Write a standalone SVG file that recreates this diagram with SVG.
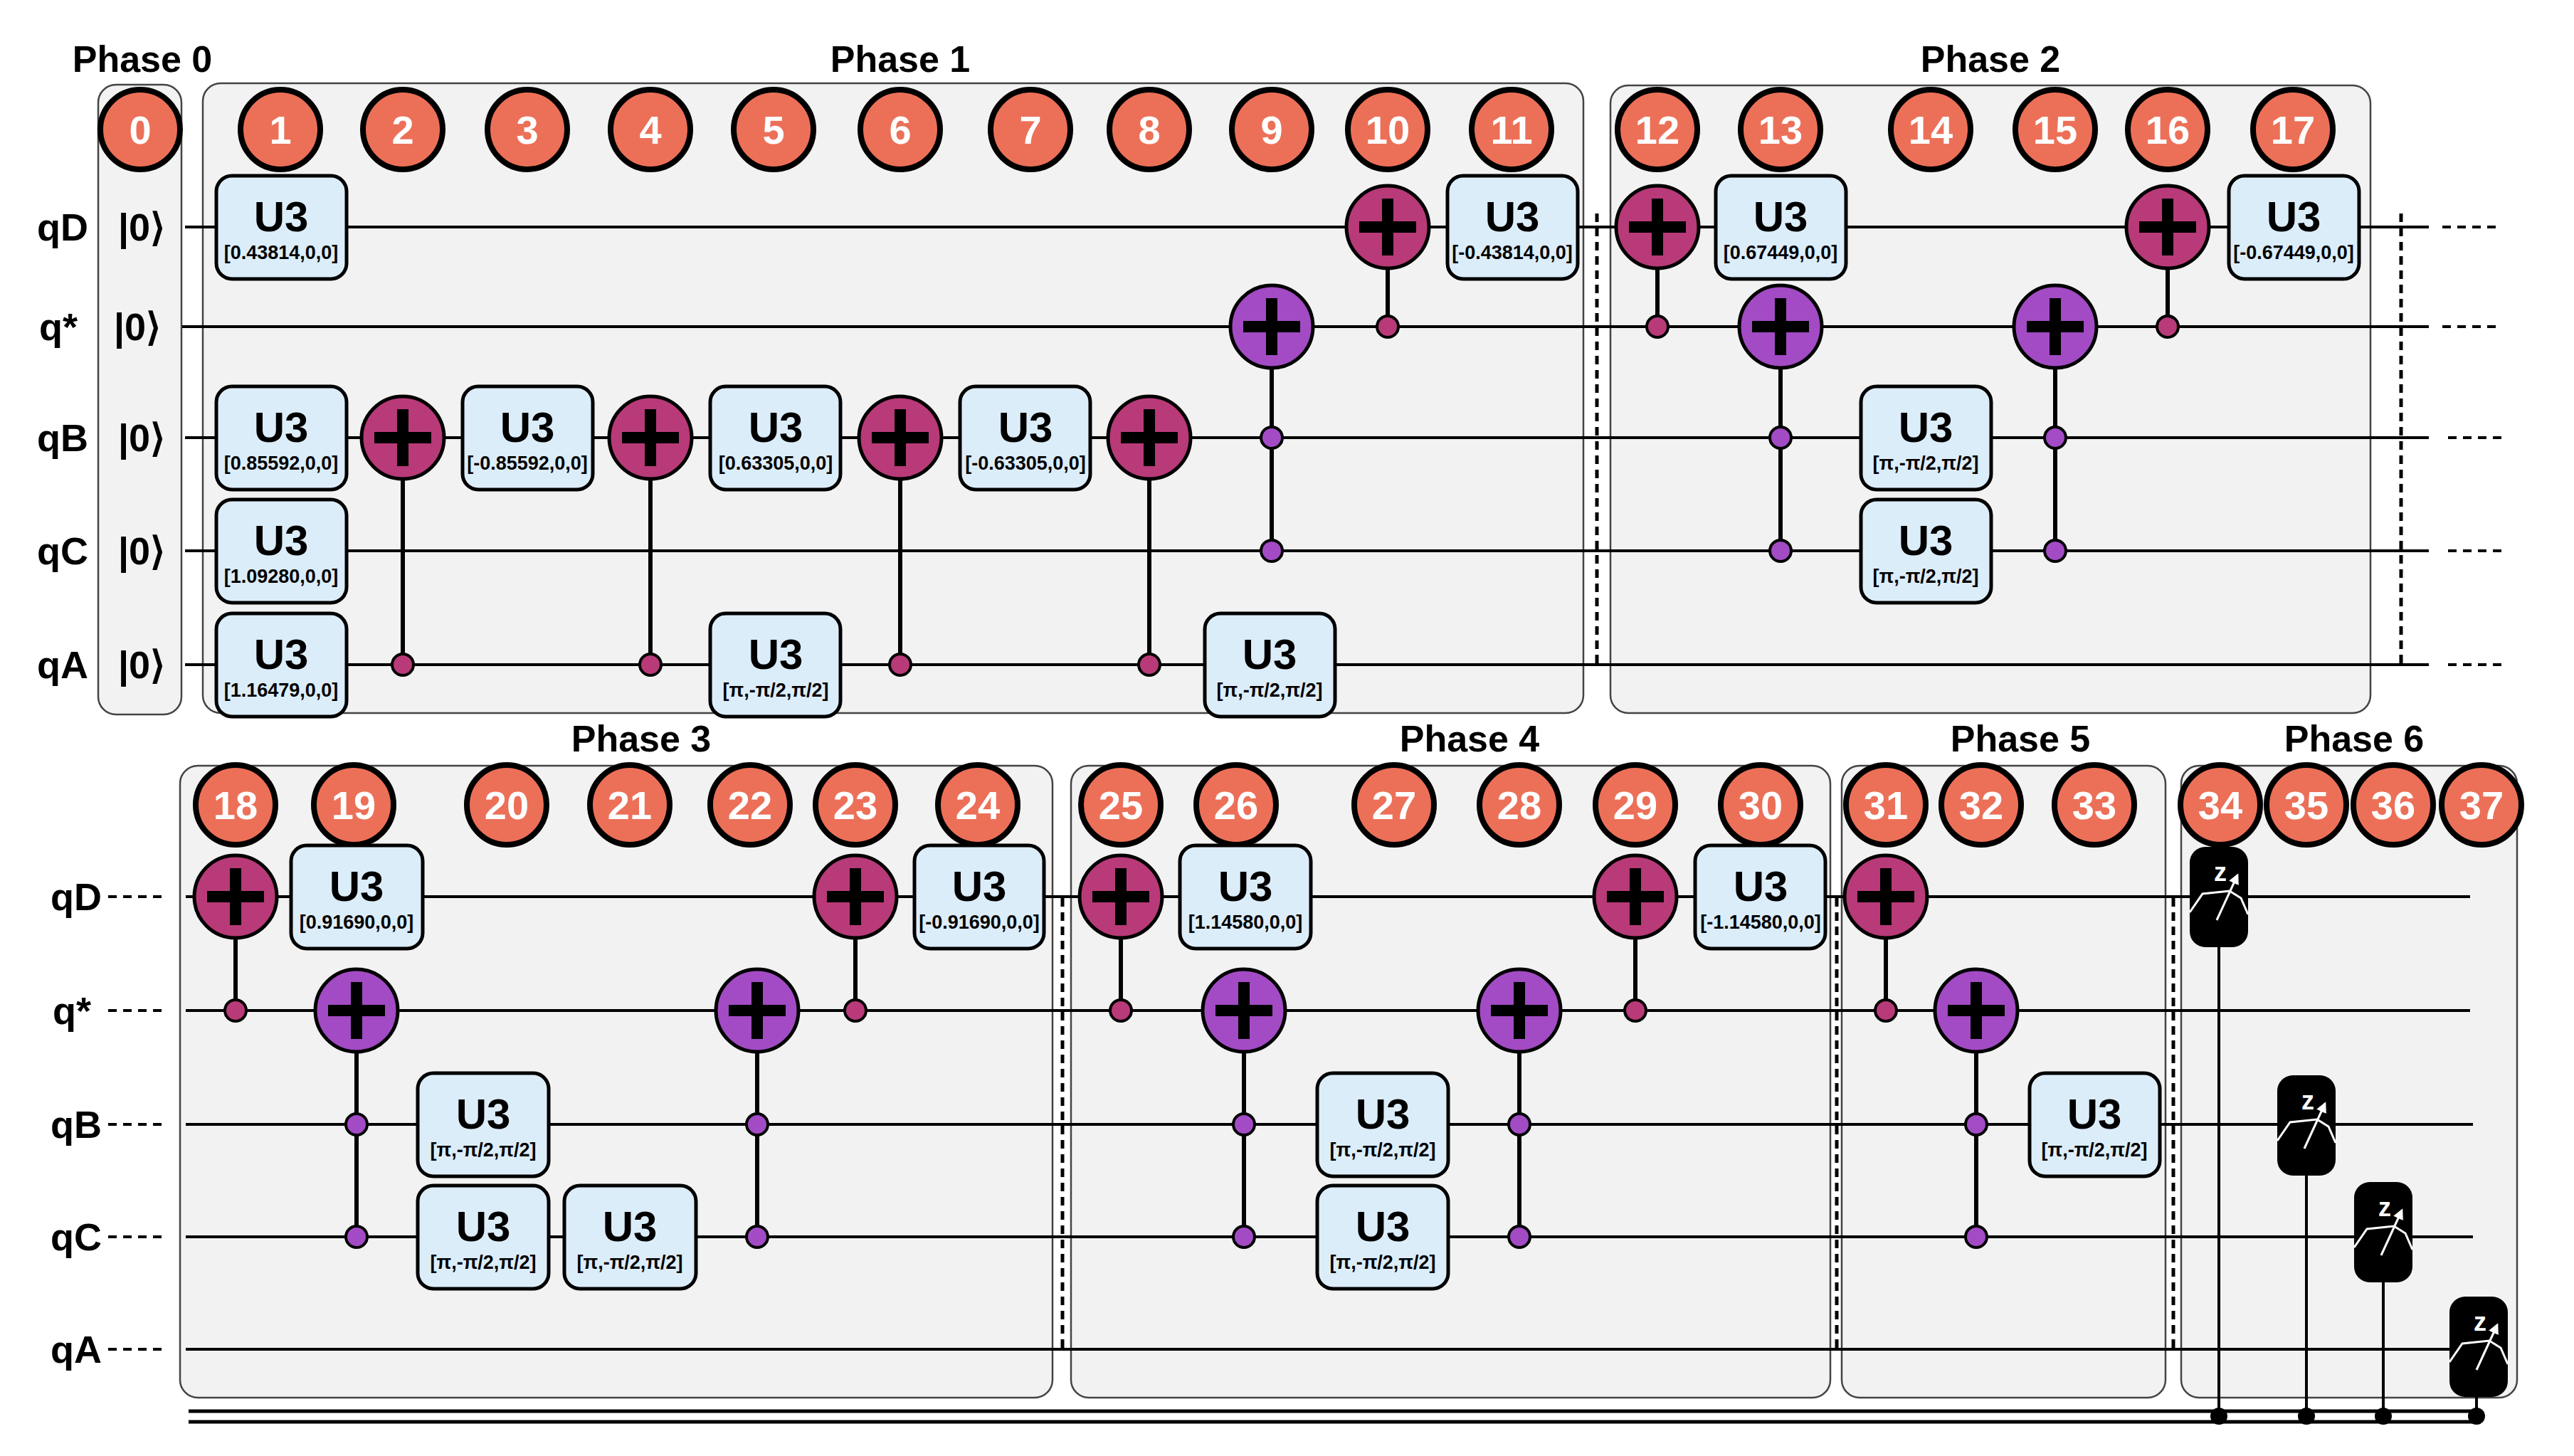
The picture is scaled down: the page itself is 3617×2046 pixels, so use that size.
<svg xmlns="http://www.w3.org/2000/svg" xmlns:xlink="http://www.w3.org/1999/xlink" width="3617" height="2046" viewBox="0 0 3617 2046">
<style>
text{font-family:"Liberation Sans",Arial,sans-serif;font-weight:bold;text-anchor:middle}
.ph{fill:#f2f2f2;stroke:#444;stroke-width:2.5}
.ttl{font-size:52px;fill:#000}
.num circle{fill:#ec7058;stroke:#000;stroke-width:8}
.num text{font-size:56px;fill:#fff}
.lbl{font-size:54px;fill:#000}
.wire{stroke:#000;stroke-width:4;fill:none}
.dash{stroke:#000;stroke-width:4;stroke-dasharray:12 9}
.vdot{stroke:#000;stroke-width:5;stroke-dasharray:12 8}
.ctl{stroke:#000;stroke-width:6}
.u3 rect{fill:#dcedfa;stroke:#000;stroke-width:5}
.u3 .g{font-size:60px}
.u3 .p{font-size:27px}
.cm{fill:#b83a78;stroke:#000;stroke-width:4}
.cp{fill:#a24bc4;stroke:#000;stroke-width:4}
.cl{stroke:#000;stroke-width:5}
</style>
<defs>
<g id="plus"><rect x="-40" y="-8" width="80" height="16" fill="#000"/><rect x="-8" y="-40" width="16" height="80" fill="#000"/></g>
<g id="tM"><circle r="58" fill="#b83a78" stroke="#000" stroke-width="5"/><use xlink:href="#plus"/></g>
<g id="tP"><circle r="58" fill="#a24bc4" stroke="#000" stroke-width="5"/><use xlink:href="#plus"/></g>
<marker id="arr" viewBox="0 0 10 10" refX="8" refY="5" markerWidth="5" markerHeight="5" orient="auto"><path d="M0,0L10,5L0,10z" fill="#fff"/></marker>
<g id="meter"><rect x="-41" y="-70" width="82" height="141" rx="22" fill="#000"/><text x="2" y="-22" font-size="36" fill="#fff" font-family="Liberation Sans, Arial, sans-serif" font-weight="bold" text-anchor="middle">z</text><polyline points="-41,22 -23,-4 15,-8 31,2 41,25" fill="none" stroke="#fff" stroke-width="3"/><line x1="-3" y1="33" x2="26" y2="-30" stroke="#fff" stroke-width="3" marker-end="url(#arr)"/></g>
</defs>

<g id="phases">
<rect class="ph" x="138" y="119" width="117" height="885" rx="25"/>
<rect class="ph" x="285" y="117" width="1940" height="885" rx="25"/>
<rect class="ph" x="2263" y="120" width="1068" height="882" rx="25"/>
<rect class="ph" x="253" y="1076" width="1226" height="888" rx="25"/>
<rect class="ph" x="1505" y="1076" width="1067" height="888" rx="25"/>
<rect class="ph" x="2588" y="1076" width="455" height="888" rx="25"/>
<rect class="ph" x="3065" y="1076" width="472" height="888" rx="25"/>
<text class="ttl" x="200" y="101">Phase 0</text>
<text class="ttl" x="1265" y="101">Phase 1</text>
<text class="ttl" x="2797" y="101">Phase 2</text>
<text class="ttl" x="901" y="1056">Phase 3</text>
<text class="ttl" x="2065" y="1056">Phase 4</text>
<text class="ttl" x="2839" y="1056">Phase 5</text>
<text class="ttl" x="3308" y="1056">Phase 6</text>
</g>

<g id="labels">
<text class="lbl" x="88" y="338">qD</text><text class="lbl" x="199" y="338">|0⟩</text>
<text class="lbl" x="82" y="478">q*</text><text class="lbl" x="193" y="478">|0⟩</text>
<text class="lbl" x="88" y="634">qB</text><text class="lbl" x="199" y="634">|0⟩</text>
<text class="lbl" x="88" y="793">qC</text><text class="lbl" x="199" y="793">|0⟩</text>
<text class="lbl" x="88" y="953">qA</text><text class="lbl" x="199" y="953">|0⟩</text>
<text class="lbl" x="107" y="1279">qD</text>
<text class="lbl" x="101" y="1439">q*</text>
<text class="lbl" x="107" y="1599">qB</text>
<text class="lbl" x="107" y="1757">qC</text>
<text class="lbl" x="107" y="1915">qA</text>
</g>

<g id="connectors">
<line class="wire" x1="260" y1="319" x2="3413" y2="319"/>
<line class="wire" x1="256" y1="459" x2="3413" y2="459"/>
<line class="wire" x1="260" y1="615" x2="3413" y2="615"/>
<line class="wire" x1="260" y1="774" x2="3413" y2="774"/>
<line class="wire" x1="260" y1="934" x2="3413" y2="934"/>
<line class="dash" x1="3432" y1="319" x2="3510" y2="319"/>
<line class="dash" x1="3432" y1="459" x2="3510" y2="459"/>
<line class="dash" x1="3440" y1="615" x2="3518" y2="615"/>
<line class="dash" x1="3440" y1="774" x2="3518" y2="774"/>
<line class="dash" x1="3440" y1="934" x2="3518" y2="934"/>
<line class="wire" x1="261" y1="1260" x2="3471" y2="1260"/>
<line class="wire" x1="261" y1="1420" x2="3471" y2="1420"/>
<line class="wire" x1="261" y1="1580" x2="3475" y2="1580"/>
<line class="wire" x1="261" y1="1738" x2="3475" y2="1738"/>
<line class="wire" x1="261" y1="1896" x2="3445" y2="1896"/>
<line class="dash" x1="152" y1="1260" x2="228" y2="1260"/>
<line class="dash" x1="152" y1="1420" x2="228" y2="1420"/>
<line class="dash" x1="152" y1="1580" x2="228" y2="1580"/>
<line class="dash" x1="152" y1="1738" x2="228" y2="1738"/>
<line class="dash" x1="152" y1="1896" x2="228" y2="1896"/>
<line class="vdot" x1="2244" y1="300" x2="2244" y2="937"/>
<line class="vdot" x1="3374" y1="300" x2="3374" y2="937"/>
<line class="vdot" x1="1493" y1="1262" x2="1493" y2="1897"/>
<line class="vdot" x1="2581" y1="1262" x2="2581" y2="1897"/>
<line class="vdot" x1="3054" y1="1262" x2="3054" y2="1897"/>
<line class="cl" x1="265" y1="1983" x2="3479" y2="1983"/>
<line class="cl" x1="265" y1="1998" x2="3479" y2="1998"/>
<line class="ctl" x1="566" y1="615" x2="566" y2="934"/>
<line class="ctl" x1="914" y1="615" x2="914" y2="934"/>
<line class="ctl" x1="1265" y1="615" x2="1265" y2="934"/>
<line class="ctl" x1="1615" y1="615" x2="1615" y2="934"/>
<line class="ctl" x1="1787" y1="459" x2="1787" y2="774"/>
<line class="ctl" x1="1950" y1="319" x2="1950" y2="459"/>
<line class="ctl" x1="2329" y1="319" x2="2329" y2="459"/>
<line class="ctl" x1="2502" y1="459" x2="2502" y2="774"/>
<line class="ctl" x1="2888" y1="459" x2="2888" y2="774"/>
<line class="ctl" x1="3046" y1="319" x2="3046" y2="459"/>
<line class="ctl" x1="331" y1="1260" x2="331" y2="1420"/>
<line class="ctl" x1="501" y1="1420" x2="501" y2="1738"/>
<line class="ctl" x1="1064" y1="1420" x2="1064" y2="1738"/>
<line class="ctl" x1="1202" y1="1260" x2="1202" y2="1420"/>
<line class="ctl" x1="1575" y1="1260" x2="1575" y2="1420"/>
<line class="ctl" x1="1748" y1="1420" x2="1748" y2="1738"/>
<line class="ctl" x1="2135" y1="1420" x2="2135" y2="1738"/>
<line class="ctl" x1="2298" y1="1260" x2="2298" y2="1420"/>
<line class="ctl" x1="2650" y1="1260" x2="2650" y2="1420"/>
<line class="ctl" x1="2777" y1="1420" x2="2777" y2="1738"/>
<line class="wire" x1="3118" y1="1330" x2="3118" y2="1990"/>
<line class="wire" x1="3241" y1="1651" x2="3241" y2="1990"/>
<line class="wire" x1="3349" y1="1801" x2="3349" y2="1990"/>
<line class="wire" x1="3480" y1="1960" x2="3480" y2="1990"/>
</g>

<g id="steps" class="num">
<circle cx="197" cy="182" r="56"/><text x="197" y="202">0</text>
<circle cx="394" cy="182" r="56"/><text x="394" y="202">1</text>
<circle cx="566" cy="182" r="56"/><text x="566" y="202">2</text>
<circle cx="741" cy="182" r="56"/><text x="741" y="202">3</text>
<circle cx="914" cy="182" r="56"/><text x="914" y="202">4</text>
<circle cx="1087" cy="182" r="56"/><text x="1087" y="202">5</text>
<circle cx="1265" cy="182" r="56"/><text x="1265" y="202">6</text>
<circle cx="1448" cy="182" r="56"/><text x="1448" y="202">7</text>
<circle cx="1615" cy="182" r="56"/><text x="1615" y="202">8</text>
<circle cx="1787" cy="182" r="56"/><text x="1787" y="202">9</text>
<circle cx="1950" cy="182" r="56"/><text x="1950" y="202">10</text>
<circle cx="2124" cy="182" r="56"/><text x="2124" y="202">11</text>
<circle cx="2329" cy="182" r="56"/><text x="2329" y="202">12</text>
<circle cx="2502" cy="182" r="56"/><text x="2502" y="202">13</text>
<circle cx="2713" cy="182" r="56"/><text x="2713" y="202">14</text>
<circle cx="2888" cy="182" r="56"/><text x="2888" y="202">15</text>
<circle cx="3046" cy="182" r="56"/><text x="3046" y="202">16</text>
<circle cx="3222" cy="182" r="56"/><text x="3222" y="202">17</text>
<circle cx="331" cy="1131" r="56"/><text x="331" y="1151">18</text>
<circle cx="497" cy="1131" r="56"/><text x="497" y="1151">19</text>
<circle cx="712" cy="1131" r="56"/><text x="712" y="1151">20</text>
<circle cx="885" cy="1131" r="56"/><text x="885" y="1151">21</text>
<circle cx="1054" cy="1131" r="56"/><text x="1054" y="1151">22</text>
<circle cx="1202" cy="1131" r="56"/><text x="1202" y="1151">23</text>
<circle cx="1374" cy="1131" r="56"/><text x="1374" y="1151">24</text>
<circle cx="1575" cy="1131" r="56"/><text x="1575" y="1151">25</text>
<circle cx="1737" cy="1131" r="56"/><text x="1737" y="1151">26</text>
<circle cx="1959" cy="1131" r="56"/><text x="1959" y="1151">27</text>
<circle cx="2135" cy="1131" r="56"/><text x="2135" y="1151">28</text>
<circle cx="2298" cy="1131" r="56"/><text x="2298" y="1151">29</text>
<circle cx="2474" cy="1131" r="56"/><text x="2474" y="1151">30</text>
<circle cx="2650" cy="1131" r="56"/><text x="2650" y="1151">31</text>
<circle cx="2784" cy="1131" r="56"/><text x="2784" y="1151">32</text>
<circle cx="2943" cy="1131" r="56"/><text x="2943" y="1151">33</text>
<circle cx="3120" cy="1131" r="56"/><text x="3120" y="1151">34</text>
<circle cx="3241" cy="1131" r="56"/><text x="3241" y="1151">35</text>
<circle cx="3363" cy="1131" r="56"/><text x="3363" y="1151">36</text>
<circle cx="3487" cy="1131" r="56"/><text x="3487" y="1151">37</text>
</g>

<g id="u3gates" class="u3">
<g id="u3-1D"><rect x="304" y="247" width="183" height="145" rx="22"/><text class="g" x="395" y="325">U3</text><text class="p" x="395" y="364">[0.43814,0,0]</text></g>
<g id="u3-1B"><rect x="304" y="543" width="183" height="145" rx="22"/><text class="g" x="395" y="621">U3</text><text class="p" x="395" y="660">[0.85592,0,0]</text></g>
<g id="u3-1C"><rect x="304" y="702" width="183" height="145" rx="22"/><text class="g" x="395" y="780">U3</text><text class="p" x="395" y="819">[1.09280,0,0]</text></g>
<g id="u3-1A"><rect x="304" y="862" width="183" height="145" rx="22"/><text class="g" x="395" y="940">U3</text><text class="p" x="395" y="979">[1.16479,0,0]</text></g>
<g id="u3-3B"><rect x="650" y="543" width="183" height="145" rx="22"/><text class="g" x="741" y="621">U3</text><text class="p" x="741" y="660">[-0.85592,0,0]</text></g>
<g id="u3-5B"><rect x="998" y="543" width="183" height="145" rx="22"/><text class="g" x="1090" y="621">U3</text><text class="p" x="1090" y="660">[0.63305,0,0]</text></g>
<g id="u3-5A"><rect x="998" y="862" width="183" height="145" rx="22"/><text class="g" x="1090" y="940">U3</text><text class="p" x="1090" y="979">[π,-π/2,π/2]</text></g>
<g id="u3-7B"><rect x="1349" y="543" width="183" height="145" rx="22"/><text class="g" x="1441" y="621">U3</text><text class="p" x="1441" y="660">[-0.63305,0,0]</text></g>
<g id="u3-9A"><rect x="1693" y="862" width="183" height="145" rx="22"/><text class="g" x="1784" y="940">U3</text><text class="p" x="1784" y="979">[π,-π/2,π/2]</text></g>
<g id="u3-11D"><rect x="2034" y="247" width="183" height="145" rx="22"/><text class="g" x="2125" y="325">U3</text><text class="p" x="2125" y="364">[-0.43814,0,0]</text></g>
<g id="u3-13D"><rect x="2411" y="247" width="183" height="145" rx="22"/><text class="g" x="2502" y="325">U3</text><text class="p" x="2502" y="364">[0.67449,0,0]</text></g>
<g id="u3-14B"><rect x="2615" y="543" width="183" height="145" rx="22"/><text class="g" x="2706" y="621">U3</text><text class="p" x="2706" y="660">[π,-π/2,π/2]</text></g>
<g id="u3-14C"><rect x="2615" y="702" width="183" height="145" rx="22"/><text class="g" x="2706" y="780">U3</text><text class="p" x="2706" y="819">[π,-π/2,π/2]</text></g>
<g id="u3-17D"><rect x="3132" y="247" width="183" height="145" rx="22"/><text class="g" x="3223" y="325">U3</text><text class="p" x="3223" y="364">[-0.67449,0,0]</text></g>
<g id="u3-19D"><rect x="409" y="1188" width="185" height="145" rx="22"/><text class="g" x="501" y="1266">U3</text><text class="p" x="501" y="1305">[0.91690,0,0]</text></g>
<g id="u3-20B"><rect x="587" y="1508" width="184" height="145" rx="22"/><text class="g" x="679" y="1586">U3</text><text class="p" x="679" y="1625">[π,-π/2,π/2]</text></g>
<g id="u3-20C"><rect x="587" y="1666" width="184" height="145" rx="22"/><text class="g" x="679" y="1744">U3</text><text class="p" x="679" y="1783">[π,-π/2,π/2]</text></g>
<g id="u3-21C"><rect x="793" y="1666" width="185" height="145" rx="22"/><text class="g" x="885" y="1744">U3</text><text class="p" x="885" y="1783">[π,-π/2,π/2]</text></g>
<g id="u3-24D"><rect x="1285" y="1188" width="182" height="145" rx="22"/><text class="g" x="1376" y="1266">U3</text><text class="p" x="1376" y="1305">[-0.91690,0,0]</text></g>
<g id="u3-26D"><rect x="1658" y="1188" width="184" height="145" rx="22"/><text class="g" x="1750" y="1266">U3</text><text class="p" x="1750" y="1305">[1.14580,0,0]</text></g>
<g id="u3-27B"><rect x="1851" y="1508" width="184" height="145" rx="22"/><text class="g" x="1943" y="1586">U3</text><text class="p" x="1943" y="1625">[π,-π/2,π/2]</text></g>
<g id="u3-27C"><rect x="1851" y="1666" width="184" height="145" rx="22"/><text class="g" x="1943" y="1744">U3</text><text class="p" x="1943" y="1783">[π,-π/2,π/2]</text></g>
<g id="u3-30D"><rect x="2382" y="1188" width="183" height="145" rx="22"/><text class="g" x="2474" y="1266">U3</text><text class="p" x="2474" y="1305">[-1.14580,0,0]</text></g>
<g id="u3-33B"><rect x="2852" y="1508" width="183" height="145" rx="22"/><text class="g" x="2943" y="1586">U3</text><text class="p" x="2943" y="1625">[π,-π/2,π/2]</text></g>
</g>

<g id="cnots">
<use xlink:href="#tM" x="566" y="615"/><circle class="cm" cx="566" cy="934" r="15"/>
<use xlink:href="#tM" x="914" y="615"/><circle class="cm" cx="914" cy="934" r="15"/>
<use xlink:href="#tM" x="1265" y="615"/><circle class="cm" cx="1265" cy="934" r="15"/>
<use xlink:href="#tM" x="1615" y="615"/><circle class="cm" cx="1615" cy="934" r="15"/>
<use xlink:href="#tP" x="1787" y="459"/><circle class="cp" cx="1787" cy="615" r="15"/><circle class="cp" cx="1787" cy="774" r="15"/>
<use xlink:href="#tM" x="1950" y="319"/><circle class="cm" cx="1950" cy="459" r="15"/>
<use xlink:href="#tM" x="2329" y="319"/><circle class="cm" cx="2329" cy="459" r="15"/>
<use xlink:href="#tP" x="2502" y="459"/><circle class="cp" cx="2502" cy="615" r="15"/><circle class="cp" cx="2502" cy="774" r="15"/>
<use xlink:href="#tP" x="2888" y="459"/><circle class="cp" cx="2888" cy="615" r="15"/><circle class="cp" cx="2888" cy="774" r="15"/>
<use xlink:href="#tM" x="3046" y="319"/><circle class="cm" cx="3046" cy="459" r="15"/>
<use xlink:href="#tM" x="331" y="1260"/><circle class="cm" cx="331" cy="1420" r="15"/>
<use xlink:href="#tP" x="501" y="1420"/><circle class="cp" cx="501" cy="1580" r="15"/><circle class="cp" cx="501" cy="1738" r="15"/>
<use xlink:href="#tP" x="1064" y="1420"/><circle class="cp" cx="1064" cy="1580" r="15"/><circle class="cp" cx="1064" cy="1738" r="15"/>
<use xlink:href="#tM" x="1202" y="1260"/><circle class="cm" cx="1202" cy="1420" r="15"/>
<use xlink:href="#tM" x="1575" y="1260"/><circle class="cm" cx="1575" cy="1420" r="15"/>
<use xlink:href="#tP" x="1748" y="1420"/><circle class="cp" cx="1748" cy="1580" r="15"/><circle class="cp" cx="1748" cy="1738" r="15"/>
<use xlink:href="#tP" x="2135" y="1420"/><circle class="cp" cx="2135" cy="1580" r="15"/><circle class="cp" cx="2135" cy="1738" r="15"/>
<use xlink:href="#tM" x="2298" y="1260"/><circle class="cm" cx="2298" cy="1420" r="15"/>
<use xlink:href="#tM" x="2650" y="1260"/><circle class="cm" cx="2650" cy="1420" r="15"/>
<use xlink:href="#tP" x="2777" y="1420"/><circle class="cp" cx="2777" cy="1580" r="15"/><circle class="cp" cx="2777" cy="1738" r="15"/>
</g>

<g id="measurements">
<use xlink:href="#meter" x="3118" y="1260"/>
<use xlink:href="#meter" x="3241" y="1581"/>
<use xlink:href="#meter" x="3349" y="1731"/>
<use xlink:href="#meter" x="3483" y="1892"/>
<circle cx="3118" cy="1990" r="12" fill="#000"/>
<circle cx="3241" cy="1990" r="12" fill="#000"/>
<circle cx="3349" cy="1990" r="12" fill="#000"/>
<circle cx="3480" cy="1990" r="12" fill="#000"/>
</g>
</svg>
